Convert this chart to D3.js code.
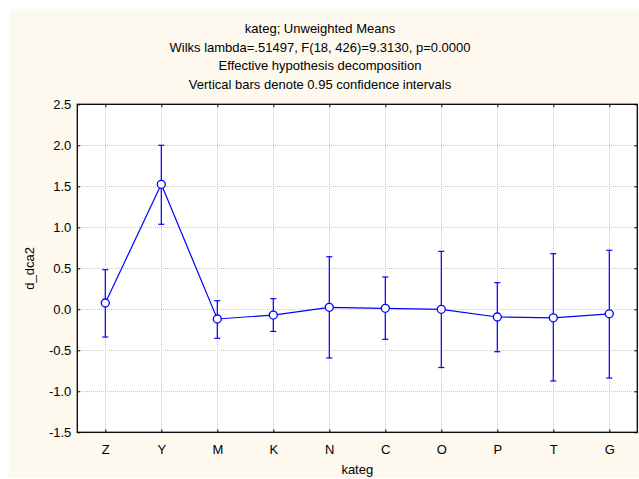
<!DOCTYPE html>
<html>
<head>
<meta charset="utf-8">
<script src="https://cdn.jsdelivr.net/npm/d3@7"></script>
<style>
  html, body { margin: 0; padding: 0; background: #ffffff; }
  svg { display: block; font-family: Arial, "Liberation Sans", sans-serif; }
</style>
</head>
<body>
<svg id="chart" width="639" height="479"></svg>
<script>
// Category levels of kateg
const categories = ["Z", "Y", "M", "K", "N", "C", "O", "P", "T", "G"];
// Unweighted means of d_dca2
const means = [0.077, 1.524, -0.118, -0.070, 0.024, 0.012, 0.000, -0.094, -0.104, -0.055];
// 95% confidence limits
const lower = [-0.338, 1.037, -0.354, -0.270, -0.594, -0.366, -0.710, -0.517, -0.874, -0.838];
const upper = [0.483, 2.000, 0.105, 0.130, 0.641, 0.394, 0.707, 0.325, 0.678, 0.720];
// Y axis ticks
const yTicks = [-1.5, -1.0, -0.5, 0.0, 0.5, 1.0, 1.5, 2.0, 2.5];

const titleLines = [
  "kateg; Unweighted Means",
  "Wilks lambda=.51497, F(18, 426)=9.3130, p=0.0000",
  "Effective hypothesis decomposition",
  "Vertical bars denote 0.95 confidence intervals"
];

const svg = d3.select("#chart");
const W = 639, H = 479;
const FS = "13px";
const plot = { left: 77.3, right: 637.3, top: 104.3, bottom: 432.3 };

// Page background
svg.append("rect").attr("x", 9).attr("y", 9).attr("width", W - 9).attr("height", H - 10)
  .attr("fill", "#fdf9ee");

// Plot area
svg.append("rect")
  .attr("x", plot.left).attr("y", plot.top)
  .attr("width", plot.right - plot.left).attr("height", plot.bottom - plot.top)
  .attr("fill", "#ffffff");

const x = d3.scalePoint().domain(categories).range([plot.left, plot.right]).padding(0.5);
const y = d3.scaleLinear().domain([-1.5, 2.5]).range([plot.bottom, plot.top]);

// Dotted grid
const grid = svg.append("g").attr("stroke", "#c8c8c8").attr("stroke-width", 1)
  .attr("stroke-dasharray", "1,1").attr("shape-rendering", "crispEdges");
grid.selectAll("line.h").data(yTicks.slice(1, -1)).join("line")
  .attr("x1", plot.left).attr("x2", plot.right)
  .attr("y1", d => Math.round(y(d)) + 0.5).attr("y2", d => Math.round(y(d)) + 0.5);
grid.selectAll("line.v").data(categories).join("line")
  .attr("y1", plot.top).attr("y2", plot.bottom)
  .attr("x1", d => Math.round(x(d)) + 0.5).attr("x2", d => Math.round(x(d)) + 0.5);

// Axes with inward ticks
const fmt = d3.format(".1f");
const axisLeft = d3.axisLeft(y).tickValues(yTicks).tickFormat(d => fmt(d).replace("−", "-"))
  .tickSizeInner(-3).tickSizeOuter(0).tickPadding(6);
const axisRight = d3.axisRight(y).tickValues(yTicks).tickFormat("").tickSizeInner(-3).tickSizeOuter(0);
const axisBottom = d3.axisBottom(x).tickSizeInner(-3).tickSizeOuter(0).tickPadding(12);
const axisTop = d3.axisTop(x).tickFormat("").tickSizeInner(-3).tickSizeOuter(0);

function styleAxis(g) {
  g.select(".domain").remove();
  g.selectAll(".tick line").attr("stroke", "#000");
  g.selectAll("text").attr("fill", "#000").attr("font-size", FS)
    .attr("font-family", "Arial, 'Liberation Sans', sans-serif");
}
svg.append("g").attr("transform", `translate(${plot.left},0)`).call(axisLeft).call(styleAxis);
svg.append("g").attr("transform", `translate(${plot.right},0)`).call(axisRight).call(styleAxis);
svg.append("g").attr("transform", `translate(0,${plot.bottom})`).call(axisBottom).call(styleAxis);
svg.append("g").attr("transform", `translate(0,${plot.top})`).call(axisTop).call(styleAxis);

// Frame
svg.append("rect")
  .attr("x", plot.left).attr("y", plot.top)
  .attr("width", plot.right - plot.left).attr("height", plot.bottom - plot.top)
  .attr("fill", "none").attr("stroke", "#000").attr("stroke-width", 1.3);

// Confidence interval bars
const color = "#0000ff";
const bars = svg.append("g").attr("stroke", color).attr("stroke-width", 1.2);
categories.forEach((c, i) => {
  const cx = x(c);
  bars.append("line").attr("x1", cx).attr("x2", cx).attr("y1", y(lower[i])).attr("y2", y(upper[i]));
  bars.append("line").attr("x1", cx - 3).attr("x2", cx + 3).attr("y1", y(lower[i])).attr("y2", y(lower[i]));
  bars.append("line").attr("x1", cx - 3).attr("x2", cx + 3).attr("y1", y(upper[i])).attr("y2", y(upper[i]));
});

// Mean line and markers
const line = d3.line().x((d, i) => x(categories[i])).y(d => y(d));
svg.append("path").datum(means).attr("d", line)
  .attr("fill", "none").attr("stroke", color).attr("stroke-width", 1.2);
svg.append("g").selectAll("circle").data(means).join("circle")
  .attr("cx", (d, i) => x(categories[i])).attr("cy", d => y(d)).attr("r", 4)
  .attr("fill", "#ffffff").attr("stroke", color).attr("stroke-width", 1.3);

// Titles
svg.append("g").selectAll("text").data(titleLines).join("text")
  .attr("x", 320).attr("y", (d, i) => 33 + i * 18.6)
  .attr("text-anchor", "middle").attr("font-size", FS).attr("fill", "#000")
  .text(d => d);

// Axis titles
svg.append("text").attr("x", (plot.left + plot.right) / 2).attr("y", 474)
  .attr("text-anchor", "middle").attr("font-size", FS).attr("fill", "#000").text("kateg");
svg.append("text").attr("transform", `translate(34,${(plot.top + plot.bottom) / 2}) rotate(-90)`)
  .attr("text-anchor", "middle").attr("font-size", FS).attr("fill", "#000").text("d_dca2");
</script>
</body>
</html>
